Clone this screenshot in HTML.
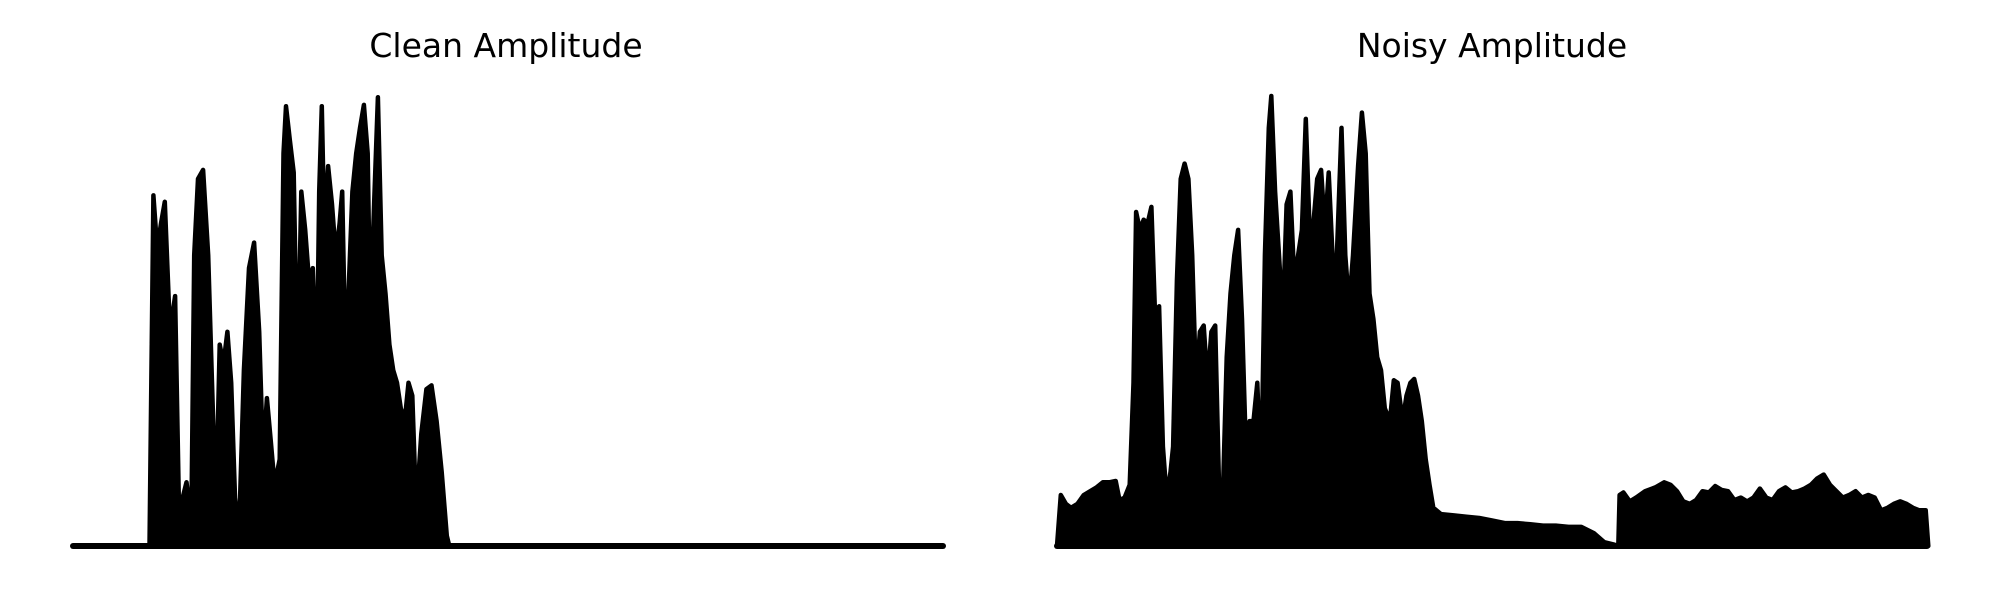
<!DOCTYPE html>
<html><head><meta charset="utf-8"><style>
html,body{margin:0;padding:0;background:#fff}
svg{display:block}
text{font-family:"DejaVu Sans","Liberation Sans",sans-serif}
</style></head><body>
<svg id="chart" width="2000" height="600" viewBox="0 0 2000 600">
<text x="506" y="57" font-size="33" text-anchor="middle" fill="#000">Clean Amplitude</text>
<text x="1492" y="57" font-size="33" text-anchor="middle" fill="#000">Noisy Amplitude</text>
<g id="clean"></g>
<g id="noisy"></g>
</svg>
<script>
const cleanT=[0,60,63,66,69,72,76,80,83,86,89,91,93,95,98,102,106,109,112,115,118,121,124,128,131,134,138,142,146,149,152,155,158,162,165,167,170,173,176,179,182,185,188,191,193,195,197,200,203,206,209,211,213,216,219,222,225,228,231,233,236,239,242,245,248,251,254,257,260,263,266,269,273,277,281,285,289,293,295,682];
const cleanA=[0,0,275,233,253,270,168,196,33,38,50,33,38,228,288,295,228,128,28,158,143,168,128,8,38,138,218,238,168,68,116,83,48,68,308,345,318,293,128,278,248,208,218,128,278,345,248,298,268,228,253,278,178,198,278,308,328,346,308,178,268,352,228,198,158,138,128,108,98,128,118,28,88,123,126,98,58,8,0,0];
const noisyT=[0,3,7,11,16,21,26,31,36,41,46,49,53,57,60,62,65,68,71,74,77,80,83,86,89,91,94,97,100,103,106,109,112,115,118,121,124,127,130,133,136,139,142,145,148,151,154,157,160,163,166,168,171,174,177,180,183,186,189,192,195,198,201,204,207,210,213,216,219,223,226,229,232,236,239,242,245,248,251,254,257,261,264,267,271,274,277,280,283,286,289,292,295,301,311,321,331,341,351,361,371,381,391,401,411,421,429,437,440,441,444,449,454,461,469,476,481,486,491,496,501,506,511,516,521,526,531,536,541,546,551,556,561,566,571,576,581,586,591,596,601,606,611,616,621,626,631,636,641,646,651,656,661,666,671,676,681,683];
const noisyA=[0,40,33,30,33,40,43,46,50,50,51,36,38,48,128,262,248,256,253,266,178,188,78,38,58,78,208,288,300,288,228,128,168,173,128,168,173,48,38,148,198,228,248,178,78,98,98,128,48,228,328,353,278,228,178,268,278,208,228,248,335,248,253,288,295,248,293,228,218,328,228,188,228,298,340,308,198,178,148,138,108,98,130,128,98,118,128,131,118,98,68,48,30,25,24,23,22,20,18,18,17,16,16,15,15,10,3,1,0,40,42,35,38,43,46,50,48,43,35,33,36,43,42,47,44,43,36,38,35,38,45,38,36,43,46,42,43,45,48,53,56,48,43,38,40,43,38,40,38,28,30,33,35,33,30,28,28,0];
const tMax=682, aMax=353;
function panel(gid,left,T,A,name){
  const g=document.getElementById(gid), W=870, base=546, H=450;
  const xs=t=>left+t/tMax*W, ys=a=>base-a/aMax*H;
  const NS='http://www.w3.org/2000/svg';
  const bl=document.createElementNS(NS,'line');
  bl.setAttribute('x1',left);bl.setAttribute('x2',left+W);bl.setAttribute('y1',base);bl.setAttribute('y2',base);
  bl.setAttribute('stroke','#000');bl.setAttribute('stroke-width','6');bl.setAttribute('stroke-linecap','round');
  
  
  g.appendChild(bl);
  let d='M'+xs(T[0])+','+base;
  for(let i=0;i<T.length;i++) d+=' L'+xs(T[i]).toFixed(1)+','+ys(A[i]).toFixed(1);
  d+=' L'+xs(T[T.length-1])+','+base+' Z';
  const p=document.createElementNS(NS,'path');
  p.setAttribute('d',d);p.setAttribute('fill','#000');p.setAttribute('stroke','#000');
  p.setAttribute('stroke-width','4.5');p.setAttribute('stroke-linejoin','round');
  
  
  g.appendChild(p);
}
panel('clean',73,cleanT,cleanA,'clean');
panel('noisy',1057,noisyT,noisyA,'noisy');
</script>
</body></html>
